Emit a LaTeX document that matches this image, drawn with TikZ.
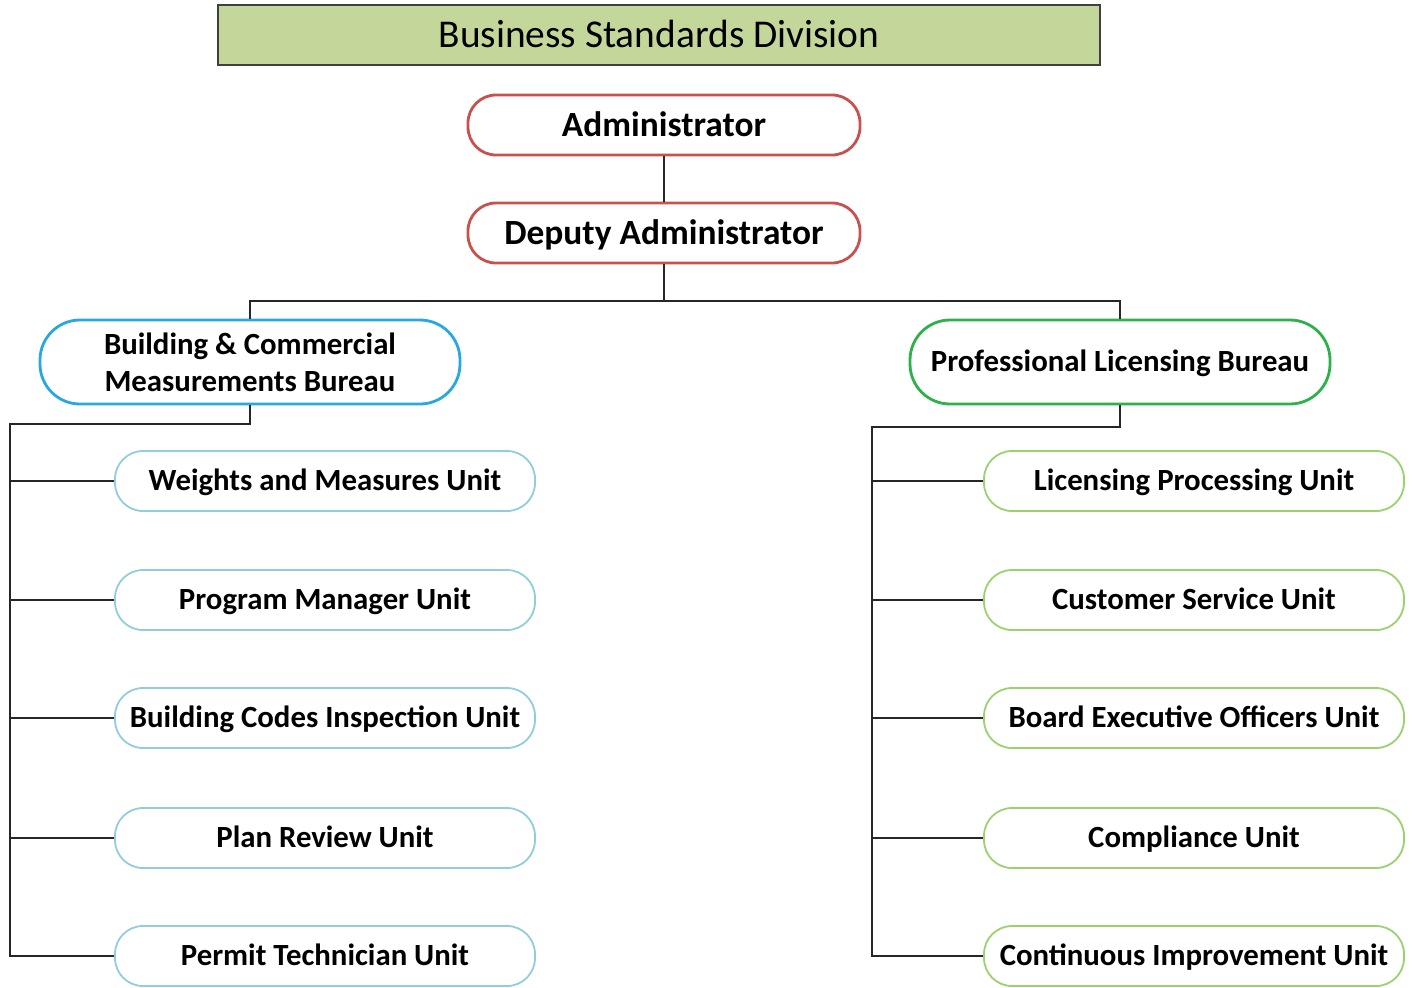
\documentclass[tikz,border=0pt]{standalone}
\usepackage{fontspec}
\setmainfont{Carlito}
\usepackage{tikz}
\usetikzlibrary{positioning}
\definecolor{titlegreen}{RGB}{196,215,155}
\definecolor{topred}{RGB}{200,80,77}
\definecolor{bureaublue}{RGB}{41,168,224}
\definecolor{bureaugreen}{RGB}{46,176,75}
\definecolor{unitblue}{RGB}{146,205,220}
\definecolor{unitgreen}{RGB}{155,210,110}

\begin{document}
\begin{tikzpicture}[x=0.5pt,y=-0.5pt,
    every node/.style={inner sep=0pt,align=center},
    oneline/.style={text height=#1,text depth=0pt},
    titlebox/.style={oneline=12.7pt,draw=black!75,fill=titlegreen,line width=0.8pt,minimum width=441pt,minimum height=30pt,font=\fontsize{19.7}{22}\selectfont},
    topbox/.style={oneline=11.4pt,draw=topred,line width=1.4pt,rounded corners=14pt,minimum width=196pt,minimum height=30pt,font=\bfseries\fontsize{17.7}{20}\selectfont},
    bureau/.style={line width=1.4pt,rounded corners=20pt,minimum width=210pt,minimum height=42pt,font=\bfseries\fontsize{15.4}{18.5}\selectfont},
    unit/.style={oneline=9.9pt,line width=0.9pt,rounded corners=14pt,minimum width=210pt,minimum height=30pt,font=\bfseries\fontsize{15.4}{18}\selectfont},
    link/.style={draw=black!85,line width=0.7pt}]
                \useasboundingbox (0,0) rectangle (1413,987);
                % heading and top of the chart
                \node [titlebox] (division) at (659,35) {Business Standards Division};
                \node [topbox] (admin) at (664,125) {Administrator};
                \node [topbox] (deputy) at (664,233) {Deputy Administrator};
                % the two bureaus
                \node [bureau,draw=bureaublue] (bcm) at (250,362) {Building \& Commercial\\Measurements Bureau};
                \node [bureau,oneline=9.9pt,draw=bureaugreen] (plb) at (1120,362) {Professional Licensing Bureau};
                % units of each bureau
                \foreach \name/\y/\txt in {wm/481/Weights and Measures Unit,
                                           pm/600/Program Manager Unit,
                                           bci/718/Building Codes Inspection Unit,
                                           pr/838/Plan Review Unit,
                                           pt/956/Permit Technician Unit}
                    \node [unit,draw=unitblue] (\name) at (325,\y) {\txt};
                \foreach \name/\y/\txt in {lp/481/Licensing Processing Unit,
                                           cs/600/Customer Service Unit,
                                           beo/718/Board Executive Officers Unit,
                                           co/838/Compliance Unit,
                                           ci/956/Continuous Improvement Unit}
                    \node [unit,draw=unitgreen] (\name) at (1194,\y) {\txt};
                % connectors
                \coordinate (split) at (664,301);
                \coordinate (lbus) at (10,424);
                \coordinate (rbus) at (872,427);
                \draw [link] (admin.south) -- (deputy.north);
                \draw [link] (deputy.south) -- (split);
                \draw [link] (bcm.north) |- (split) -| (plb.north);
                \draw [link] (bcm.south) |- (lbus) |- (pt.west);
                \draw [link] (plb.south) |- (rbus) |- (ci.west);
                \foreach \name in {wm,pm,bci,pr}
                    \draw [link] (\name.west) -- (\name.west -| lbus);
                \foreach \name in {lp,cs,beo,co}
                    \draw [link] (\name.west) -- (\name.west -| rbus);
            \end{tikzpicture}
\end{document}
